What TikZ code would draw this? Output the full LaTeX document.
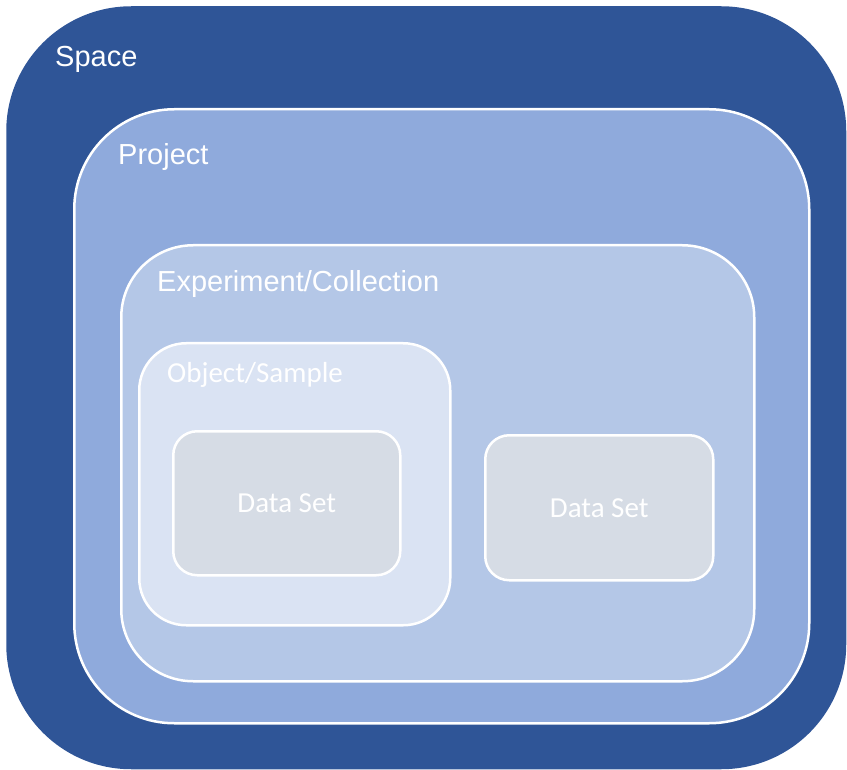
\documentclass[tikz,border=0pt]{standalone}
\usepackage{fontspec}
\setmainfont{Liberation Sans}
\newfontfamily\calibrifont{Carlito}
\usepackage{tikz}
\usetikzlibrary{positioning}
\definecolor{levelSpace}{HTML}{2F5597}
\definecolor{levelProject}{HTML}{8FAADC}
\definecolor{levelExp}{HTML}{B4C7E7}
\definecolor{levelObject}{HTML}{DAE3F3}
\definecolor{levelData}{HTML}{D6DCE5}

\begin{document}
\begin{tikzpicture}[x=1pt,y=-1pt,
  levelbox/.style={draw=white,line width=2.5pt,anchor=north west,inner sep=0pt},
  levellabel/.style={text=white,anchor=base west,inner sep=0pt,
                     font=\fontsize{29}{34}\selectfont},
  datalabel/.style={text=white,font=\calibrifont\fontsize{29}{34}\selectfont}]
  \useasboundingbox (0,0) rectangle (847,770);

  % nested containers, outermost first
  \node[levelbox,draw=none,fill=levelSpace,rounded corners=125pt,
        minimum width=840pt,minimum height=763pt] (space) at (5,5) {};
  \node[levelbox,fill=levelProject,rounded corners=100pt,
        minimum width=735pt,minimum height=614pt] (project) at (73,108) {};
  \node[levelbox,fill=levelExp,rounded corners=72pt,
        minimum width=633pt,minimum height=436pt] (experiment) at (120,244) {};
  \node[levelbox,fill=levelObject,rounded corners=47pt,
        minimum width=311pt,minimum height=282pt] (object) at (138,342) {};

  % data sets
  \node[levelbox,fill=levelData,rounded corners=24pt,datalabel,
        minimum width=227pt,minimum height=144pt] (dataA) at (172,430) {Data Set};
  \node[levelbox,fill=levelData,rounded corners=24pt,datalabel,
        minimum width=228pt,minimum height=145pt] (dataB) at (484,434) {Data Set};

  % level names
  \node[levellabel] (spaceName) at (55,67) {Space};
  \node[levellabel] (projectName) at (118,165) {Project};
  \node[levellabel] (experimentName) at (157,292) {Experiment/Collection};
  \node[levellabel,font=\calibrifont\fontsize{29}{34}\selectfont] (objectName) at (167,382) {Object/Sample};
\end{tikzpicture}
\end{document}
